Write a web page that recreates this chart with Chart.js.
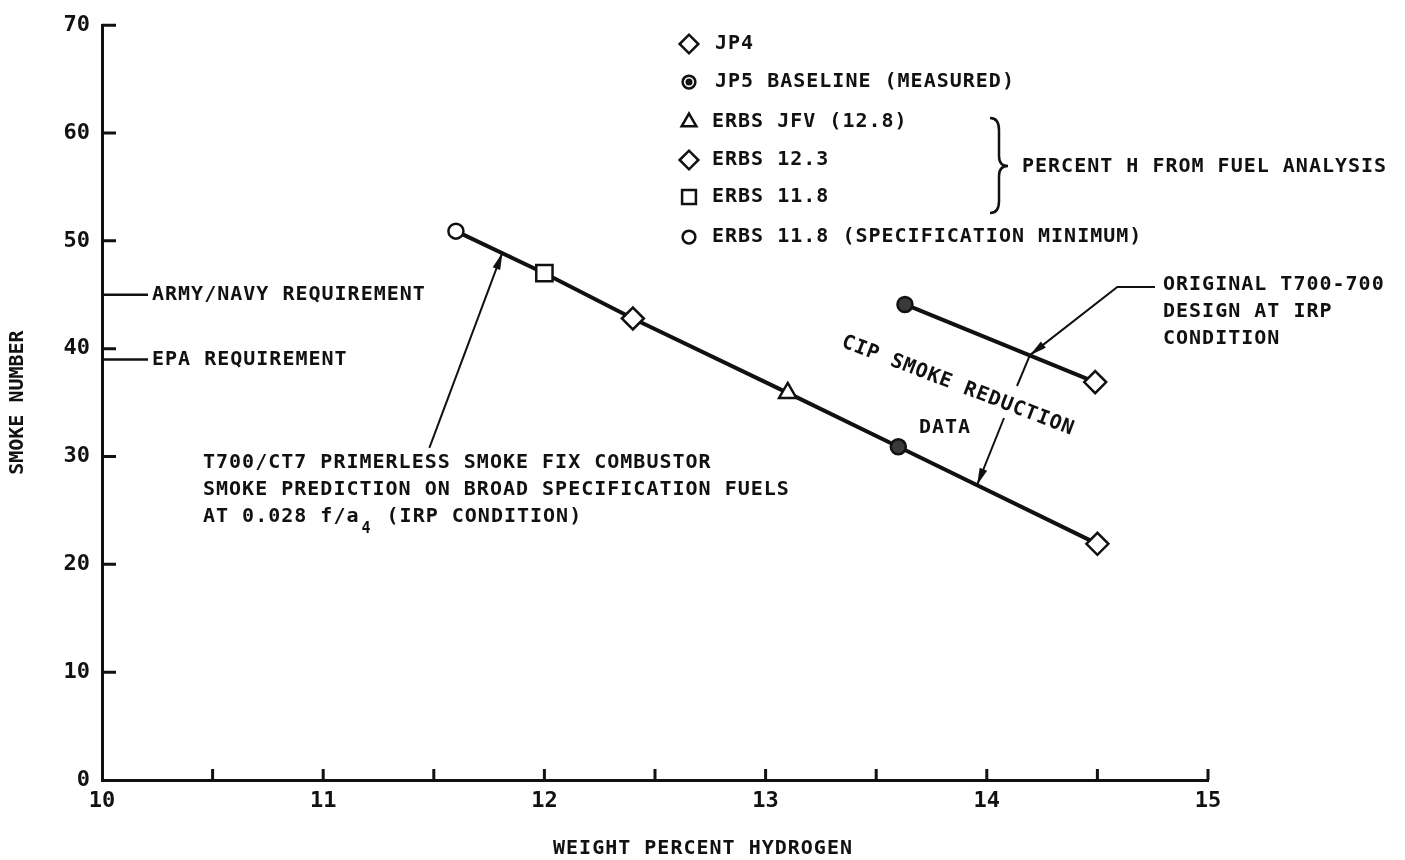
<!DOCTYPE html>
<html>
<head>
<meta charset="utf-8">
<title>Smoke number vs weight percent hydrogen</title>
<script src="https://cdn.jsdelivr.net/npm/chart.js@4.4.1/dist/chart.umd.min.js"></script>
<style>
  html, body { margin: 0; padding: 0; background: #fff; }
  #chart { display: block; }
</style>
</head>
<body>
<canvas id="chart" width="1405" height="860"></canvas>
<script>
// values (weight % hydrogen, smoke number)
const PRED_HYDROGEN = [11.6, 12.0, 12.4, 13.1, 13.6, 14.5];
const PRED_SMOKE = [50.9, 47.0, 42.8, 35.9, 30.9, 21.9];
const PRED_FUELS = ["ERBS 11.8 MIN", "ERBS 11.8", "ERBS 12.3", "ERBS JFV", "JP5", "JP4"];

const ORIG_HYDROGEN = [13.63, 14.49];
const ORIG_SMOKE = [44.1, 36.9];
const ORIG_FUELS = ["JP5", "JP4"];

const REQ_LABELS = ["ARMY/NAVY REQUIREMENT", "EPA REQUIREMENT"];
const REQ_SMOKE = [45, 39];

const X_TICKS = [10, 11, 12, 13, 14, 15];
const Y_TICKS = [0, 10, 20, 30, 40, 50, 60, 70];

const LEGEND_LABELS = [
  "JP4",
  "JP5 BASELINE (MEASURED)",
  "ERBS JFV (12.8)",
  "ERBS 12.3",
  "ERBS 11.8",
  "ERBS 11.8 (SPECIFICATION MINIMUM)",
];
const LEGEND_FUELS = ["JP4", "JP5", "ERBS JFV", "ERBS 12.3", "ERBS 11.8", "ERBS 11.8 MIN"];

const INK = "#111";
const FONT = '"DejaVu Sans Mono", monospace';

// marker look per fuel
const MARKERS = {
  "JP4": { style: "rectRot", r: 11, fill: "#fff" },
  "JP5": { style: "circle", r: 7.5, fill: "#3a3a3a" },
  "ERBS JFV": { style: "triangle", r: 10, fill: "#fff" },
  "ERBS 12.3": { style: "rectRot", r: 11, fill: "#fff" },
  "ERBS 11.8": { style: "rect", r: 11.5, fill: "#fff" },
  "ERBS 11.8 MIN": { style: "circle", r: 7.5, fill: "#fff" },
};

function lineDataset(xs, ys, fuels) {
  return {
    data: xs.map((x, i) => ({ x, y: ys[i] })),
    showLine: true,
    borderColor: INK,
    borderWidth: 4,
    pointStyle: fuels.map((f) => MARKERS[f].style),
    pointRadius: fuels.map((f) => MARKERS[f].r),
    pointBackgroundColor: fuels.map((f) => MARKERS[f].fill),
    pointBorderColor: INK,
    pointBorderWidth: 2.5,
  };
}

function text(ctx, str, x, y, size = 20, align = "left") {
  ctx.font = `bold ${size}px ${FONT}`;
  ctx.textAlign = align;
  ctx.textBaseline = "middle";
  ctx.fillText(str, x, y);
  return ctx.measureText(str).width;
}

function arrow(ctx, pts) {
  ctx.beginPath();
  ctx.moveTo(pts[0][0], pts[0][1]);
  pts.slice(1).forEach((p) => ctx.lineTo(p[0], p[1]));
  ctx.stroke();
  const [x1, y1] = pts[pts.length - 2];
  const [x2, y2] = pts[pts.length - 1];
  const a = Math.atan2(y2 - y1, x2 - x1);
  const len = 17, half = 4;
  ctx.beginPath();
  ctx.moveTo(x2, y2);
  ctx.lineTo(x2 - len * Math.cos(a) + half * Math.sin(a), y2 - len * Math.sin(a) - half * Math.cos(a));
  ctx.lineTo(x2 - len * Math.cos(a) - half * Math.sin(a), y2 - len * Math.sin(a) + half * Math.cos(a));
  ctx.closePath();
  ctx.fill();
}

const overlay = {
  id: "overlay",
  afterDraw(chart) {
    const { ctx, chartArea: area, scales: { x, y } } = chart;
    const px = (v) => x.getPixelForValue(v);
    const py = (v) => y.getPixelForValue(v);
    ctx.save();
    ctx.strokeStyle = INK;
    ctx.fillStyle = INK;
    ctx.letterSpacing = "1px";

    // inward tick marks
    ctx.lineWidth = 3;
    ctx.beginPath();
    x.ticks.forEach((t) => {
      if (t.value === x.min) return;
      ctx.moveTo(px(t.value), area.bottom);
      ctx.lineTo(px(t.value), area.bottom - 11);
    });
    y.ticks.forEach((t) => {
      if (t.value === y.min) return;
      ctx.moveTo(area.left, py(t.value));
      ctx.lineTo(area.left + 14, py(t.value));
    });
    ctx.stroke();

    // requirement levels
    ctx.lineWidth = 2.5;
    REQ_SMOKE.forEach((v, i) => {
      ctx.beginPath();
      ctx.moveTo(area.left, py(v));
      ctx.lineTo(area.left + 46, py(v));
      ctx.stroke();
      text(ctx, REQ_LABELS[i], area.left + 50, py(v));
    });

    // legend
    const rows = [44, 82, 122, 160, 197, 237];
    LEGEND_LABELS.forEach((lab, i) => {
      const fuel = LEGEND_FUELS[i];
      const m = MARKERS[fuel];
      ctx.fillStyle = "#fff";
      ctx.lineWidth = 2.5;
      Chart.helpers.drawPoint(ctx, { pointStyle: m.style, radius: m.r * 0.85, borderWidth: 2.5, rotation: 0 }, 689, rows[i]);
      if (fuel === "JP5") {
        ctx.fillStyle = INK;
        ctx.beginPath();
        ctx.arc(689, rows[i], 3.5, 0, Math.PI * 2);
        ctx.fill();
      }
      ctx.fillStyle = INK;
      text(ctx, lab, i < 2 ? 715 : 712, rows[i]);
    });

    // brace + fuel analysis note
    const bx = 999, top = 118, mid = 166, bot = 213;
    ctx.lineWidth = 2.5;
    ctx.beginPath();
    ctx.moveTo(bx - 9, top);
    ctx.quadraticCurveTo(bx, top, bx, top + 12);
    ctx.lineTo(bx, mid - 10);
    ctx.quadraticCurveTo(bx, mid, bx + 9, mid);
    ctx.quadraticCurveTo(bx, mid, bx, mid + 10);
    ctx.lineTo(bx, bot - 12);
    ctx.quadraticCurveTo(bx, bot, bx - 9, bot);
    ctx.stroke();
    text(ctx, "PERCENT H FROM FUEL ANALYSIS", 1022, 167);

    // prediction note
    ctx.lineWidth = 2;
    arrow(ctx, [[px(11.48), py(30.8)], [px(11.81), py(48.9)]]);
    text(ctx, "T700/CT7 PRIMERLESS SMOKE FIX COMBUSTOR", 203, 463);
    text(ctx, "SMOKE PREDICTION ON BROAD SPECIFICATION FUELS", 203, 490);
    const w = text(ctx, "AT 0.028 f/a", 203, 517);
    const w4 = text(ctx, "4", 203 + w + 2, 529, 15);
    text(ctx, " (IRP CONDITION)", 203 + w + w4 + 4, 517);

    // original design note
    arrow(ctx, [[1155, 287], [px(14.59), 287], [px(14.195), py(39.4)]]);
    text(ctx, "ORIGINAL T700-700", 1163, 285);
    text(ctx, "DESIGN AT IRP", 1163, 312);
    text(ctx, "CONDITION", 1163, 339);

    // reduction arrow, broken by the rotated label
    ctx.beginPath();
    ctx.moveTo(px(14.195), py(39.4));
    ctx.lineTo(1017, 386);
    ctx.stroke();
    arrow(ctx, [[1004, 418], [px(13.956), py(27.35)]]);

    ctx.save();
    ctx.translate(958, 386);
    ctx.rotate((21 * Math.PI) / 180);
    text(ctx, "CIP SMOKE REDUCTION", 0, 0, 20, "center");
    ctx.restore();
    text(ctx, "DATA", 945, 428, 20, "center");

    // x axis title
    text(ctx, "WEIGHT PERCENT HYDROGEN", 703, 849, 20, "center");
    ctx.restore();
  },
};

new Chart(document.getElementById("chart"), {
  type: "scatter",
  data: {
    datasets: [
      lineDataset(PRED_HYDROGEN, PRED_SMOKE, PRED_FUELS),
      lineDataset(ORIG_HYDROGEN, ORIG_SMOKE, ORIG_FUELS),
    ],
  },
  options: {
    responsive: false,
    animation: false,
    devicePixelRatio: 1,
    layout: { padding: { top: 19, right: 197, left: 0, bottom: 0 } },
    plugins: { legend: { display: false }, tooltip: { enabled: false } },
    scales: {
      x: {
        type: "linear",
        min: X_TICKS[0],
        max: X_TICKS[X_TICKS.length - 1],
        afterFit: (s) => { s.height = 80; },
        grid: { display: false, drawTicks: false },
        border: { display: true, color: INK, width: 3 },
        ticks: {
          stepSize: 0.5,
          autoSkip: false,
          maxRotation: 0,
          padding: 8,
          color: INK,
          font: { family: FONT, size: 22, weight: "bold" },
          callback: (v) => (X_TICKS.includes(v) ? String(v) : ""),
        },
      },
      y: {
        min: Y_TICKS[0],
        max: Y_TICKS[Y_TICKS.length - 1],
        afterFit: (s) => { s.width = 102; },
        grid: { display: false, drawTicks: false },
        border: { display: true, color: INK, width: 3 },
        ticks: {
          stepSize: 10,
          padding: 12,
          color: INK,
          font: { family: FONT, size: 22, weight: "bold" },
        },
        title: {
          display: true,
          text: "SMOKE NUMBER",
          color: INK,
          font: { family: FONT, size: 20, weight: "bold" },
          padding: { top: 6, bottom: 0 },
        },
      },
    },
  },
  plugins: [overlay],
});
</script>
</body>
</html>
